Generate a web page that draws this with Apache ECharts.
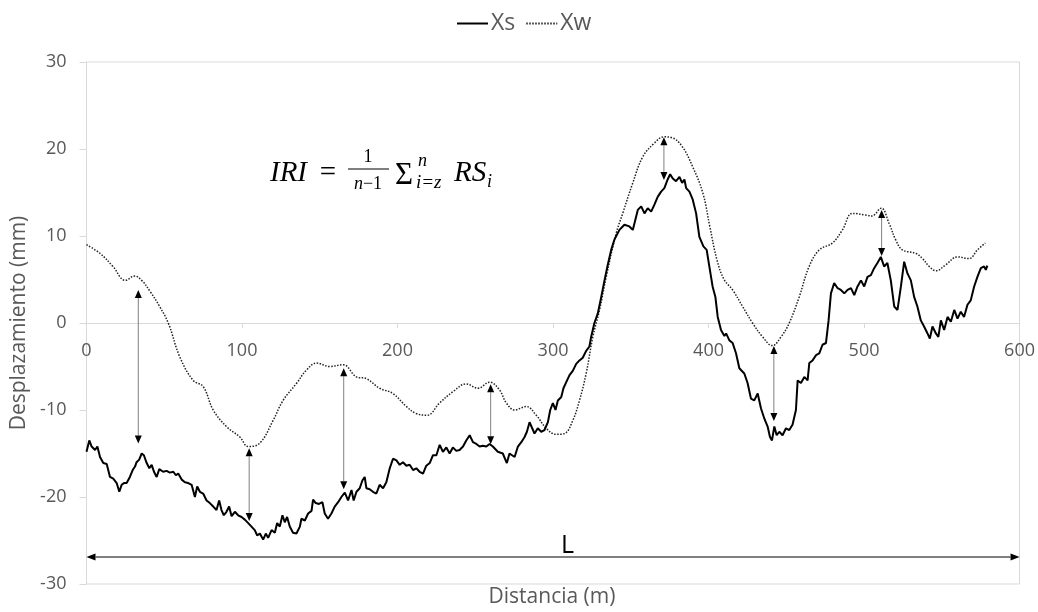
<!DOCTYPE html>
<html>
<head>
<meta charset="utf-8">
<script src="https://cdn.jsdelivr.net/npm/echarts@6/dist/echarts.min.js"></script>
<style>
html,body{margin:0;padding:0;background:#fff;}
#chart{width:1038px;height:612px;}
</style>
</head>
<body>
<div id="chart"></div>
<script>
// ---- data ----
const xTicks = [0, 100, 200, 300, 400, 500, 600];
const yTicks = [-30, -20, -10, 0, 10, 20, 30];

const xsDist = [0,1.8,3.3,5.5,7,8.7,10.8,13,15.1,17.2,19.4,21.1,22.6,24.1,25.8,27.9,29.7,31.2,32.2,33.9,35.5,36.9,38.7,40.4,41.9,43.4,45.1,46.8,49.3,51.5,53.6,55.8,57.5,59,61.2,63.3,65.4,67.6,69.7,71.2,72.9,75,77.2,79.3,81.5,83.6,85.3,86.8,88.3,90,91.7,93.3,95.4,97.5,99.7,101.8,104,106.1,108.2,109.7,111.5,113.6,115.3,116.8,119,121.1,122.6,124.3,126,127.5,129,130.7,132.8,135,137.2,138.2,140.4,142.5,144.7,145.7,147.4,149.5,151.7,153.2,155.3,157.5,159.6,161.8,163.9,166.1,168.2,170.4,171.8,173.6,175.7,177.4,178.9,180,182.1,184.2,186.4,188.5,190.7,192.8,195,197.1,199.3,201.4,203.5,205.7,207.8,210,212.1,214.2,216.4,218.5,220.7,222.8,225,227.1,229.2,231.4,233.5,235.6,237.8,239.9,242.1,244.2,246.4,248.5,250.7,252.8,254.9,257.1,259.2,261.3,264.5,267.7,270.3,272,275.3,277.4,279.6,281.7,283.2,284.9,286.6,288.1,290.2,292.4,294.5,296.7,298.2,299.9,301.6,303.1,305.3,306.7,308.5,310.6,312.7,314.9,317,319.1,321.3,323.4,324.5,326.6,328.8,331,333.1,335.2,337.4,339.5,342.7,345.9,349.1,351.3,354.5,356.7,358.8,360.9,363.1,365.2,367.3,369.5,371.6,373.7,375.3,377,379.1,381.3,383,384.5,385.6,387.7,389.8,392,394.1,396.7,398.8,400.5,402.6,404.4,405.9,408,410.2,411.3,413.4,415.5,417.7,419.8,423,425.1,427.3,429.4,431.6,433.7,435.9,438,439.5,440.8,442.3,443.8,445.5,447.6,449.8,451.9,454,456.2,457.3,459.4,461.6,463.7,464.8,466.9,469.1,471.2,473.3,475.5,477.2,478.7,480.8,483,485.1,487.3,489.4,491.6,493.7,495.8,498,500.1,502.2,504.4,506.5,508.6,510.8,512.9,515,517.2,519.4,521.5,523.7,525.8,527.9,530.1,532.2,534.3,536.5,538.6,540.8,542.3,544,546.2,547.8,549.4,551.5,553.7,555.8,558,560.1,562.2,564.3,566.5,568.6,570.8,572.9,575.1,577.2,578.3,579.3];
const xsDisp = [-14.8,-13.5,-14.2,-14.6,-14.2,-15.4,-16.1,-16.2,-17.7,-17.9,-18.4,-19.4,-18.6,-18.4,-18.4,-17.7,-16.9,-16.5,-16.0,-15.7,-15.0,-15.2,-16.1,-16.7,-16.3,-17.1,-17.7,-16.8,-17.1,-17.0,-17.2,-17.1,-17.5,-17.3,-18.0,-18.3,-18.4,-18.6,-20.0,-18.8,-19.4,-19.6,-20.4,-20.7,-21.1,-21.5,-20.4,-21.5,-22.1,-21.7,-21.1,-22.2,-21.7,-22.1,-22.3,-22.6,-23.0,-23.4,-23.8,-24.4,-24.2,-24.9,-24.2,-24.7,-23.8,-24.1,-23.0,-23.4,-22.1,-22.9,-22.3,-23.4,-24.1,-24.2,-23.4,-22.5,-22.7,-21.9,-21.6,-20.3,-20.7,-20.8,-20.6,-21.9,-22.5,-21.9,-21.1,-20.6,-20.0,-19.5,-20.4,-19.2,-20.4,-19.4,-19.0,-18.1,-17.7,-19.0,-19.1,-19.4,-19.6,-18.6,-19.0,-18.3,-16.7,-15.6,-15.8,-16.3,-16.0,-16.4,-16.3,-16.9,-16.7,-17.1,-17.3,-16.4,-16.1,-15.2,-15.2,-14.0,-14.8,-14.3,-15.0,-14.3,-14.7,-14.6,-14.2,-13.5,-12.9,-13.7,-13.9,-14.2,-14.1,-14.2,-13.9,-14.2,-14.8,-15.0,-16.1,-15.0,-15.4,-14.2,-13.7,-13.1,-12.5,-11.4,-12.1,-12.7,-12.1,-12.5,-12.3,-11.4,-10.0,-9.2,-10.0,-8.9,-8.5,-7.5,-6.8,-6.0,-5.5,-4.7,-4.3,-4.0,-3.2,-2.7,-1.6,0,1.1,3.0,4.9,6.7,8.4,9.6,10.7,11.3,11.1,10.7,13.0,13.4,12.6,13.2,12.8,13.6,14.5,15.1,15.5,16.5,17.1,16.6,16.3,16.8,16.1,16.5,15.5,15.1,14.2,12.6,9.9,8.8,8.4,6.5,4.2,3.0,0.7,-0.8,-1.5,-1.2,-2.0,-2.3,-3.5,-5.2,-5.8,-6.9,-8.7,-8.9,-8.1,-9.8,-11.0,-11.9,-13.1,-13.5,-11.9,-12.9,-12.5,-12.9,-12.1,-12.3,-11.7,-10.0,-6.6,-6.9,-6.2,-6.6,-4.6,-4.3,-3.7,-3.5,-2.5,-2.3,0.3,3.4,4.6,4.0,3.8,3.4,3.8,4.0,3.2,4.2,4.9,4.2,5.3,5.5,6.3,6.9,7.6,6.5,6.9,4.9,1.9,1.5,4.2,7.05,5.7,4.9,3.0,1.9,0.3,-0.4,-1.2,-1.8,-0.4,-1.2,-1.6,0.3,-0.8,0.7,0.15,1.5,0.5,1.3,0.7,2.1,2.6,4.2,5.3,6.3,6.5,6.1,6.6];

const xwDist = [0,8.7,17,25,31,35.5,41,47,52.6,60,68.6,75,81.5,90,98.6,104,111.5,120,126.4,135,141.5,147.9,156.4,165,173.6,180,188.5,197,205.7,212,219,227,235.6,244.2,251.7,259.2,265.6,270,275.3,282.8,289.2,295.6,302,307.4,312.7,317,321.3,325.6,329.9,334.2,340.6,344.8,351.3,357.7,365.3,371.3,376.4,383,389.7,396.4,400.8,405.5,410,415.5,421.9,428.3,434.8,441,446.6,451.9,458.3,464.7,471.2,479.7,486.1,492.6,501.2,505,511,516.2,520.5,524.7,533.3,537.6,541.9,546.2,552.6,560,567.5,572.9,578];
const xwDisp = [9.0,8.0,6.5,4.9,5.4,4.9,3.6,1.9,0,-3.9,-6.6,-7.3,-10,-11.9,-13.1,-14.2,-13.8,-11.2,-8.9,-6.95,-5.4,-4.6,-5.0,-4.8,-6.2,-6.4,-7.5,-8.1,-9.6,-10.4,-10.6,-9.2,-7.9,-7.0,-7.5,-6.8,-7.7,-9.2,-10.0,-9.6,-10.6,-12.1,-12.8,-12.7,-11.2,-8.9,-5.8,-1.6,1.5,5.3,10.3,12.6,16.1,19.1,20.7,21.4,21.3,20.3,18.0,14.9,11.1,7.2,5.0,3.8,1.9,0,-1.6,-2.6,-1.6,0,3.0,6.5,8.4,9.2,10.7,12.6,12.4,12.3,13.2,11.4,9.5,8.4,8.0,7.4,6.5,6.0,6.7,7.6,7.4,8.4,9.2];

// double-headed vertical arrows: distance, upper value, lower value
const arrowDist  = [33.3, 104.6, 165.4, 259.9, 371.3, 442, 511.3];
const arrowUpper = [3.8, -14.4, -5.2, -7.05, 21.35, -2.65, 13.0];
const arrowLower = [-13.85, -22.75, -19.1, -13.95, 16.45, -11.25, 7.7];

// span arrow "L"
const spanFrom = [0];
const spanTo = [600];
const spanLevel = [-26.9];
const spanLabel = ['L'];
const spanLabelPos = [309.3, -25.6];

const TXT = '#595959';
const FONT = 'Open Sans';

const chart = echarts.init(document.getElementById('chart'), null, {renderer: 'canvas'});

const xsData = xsDist.map((d, i) => [d, xsDisp[i]]);
const xwData = xwDist.map((d, i) => [d, xwDisp[i]]);
const arrowData = arrowDist.map((d, i) => [d, arrowUpper[i], arrowLower[i]]);
const spanData = spanFrom.map((d, i) => [d, spanTo[i], spanLevel[i]]);

function renderVArrow(params, api) {
  const x = api.value(0);
  const p1 = api.coord([x, api.value(1)]);
  const p2 = api.coord([x, api.value(2)]);
  const h = 8, w = 3.5;
  return {
    type: 'group',
    children: [
      {type: 'line', shape: {x1: p1[0], y1: p1[1] + h, x2: p2[0], y2: p2[1] - h}, style: {stroke: '#808080', lineWidth: 1}},
      {type: 'polygon', shape: {points: [[p1[0], p1[1]], [p1[0] - w, p1[1] + h], [p1[0] + w, p1[1] + h]]}, style: {fill: '#000'}},
      {type: 'polygon', shape: {points: [[p2[0], p2[1]], [p2[0] - w, p2[1] - h], [p2[0] + w, p2[1] - h]]}, style: {fill: '#000'}}
    ]
  };
}

function renderSpan(params, api) {
  const a = api.coord([api.value(0), api.value(2)]);
  const b = api.coord([api.value(1), api.value(2)]);
  const lp = api.coord(spanLabelPos);
  const h = 9, w = 3.5;
  return {
    type: 'group',
    children: [
      {type: 'line', shape: {x1: a[0] + h, y1: a[1], x2: b[0] - h, y2: b[1]}, style: {stroke: '#000', lineWidth: 1}},
      {type: 'polygon', shape: {points: [[a[0], a[1]], [a[0] + h, a[1] - w], [a[0] + h, a[1] + w]]}, style: {fill: '#000'}},
      {type: 'polygon', shape: {points: [[b[0], b[1]], [b[0] - h, b[1] - w], [b[0] - h, b[1] + w]]}, style: {fill: '#000'}},
      {type: 'text', x: lp[0], y: lp[1], style: {text: spanLabel[params.dataIndex], fill: '#000', font: '25px "Open Sans"', align: 'center', verticalAlign: 'middle'}}
    ]
  };
}

const serif = '"Liberation Serif"';
const GRID_TOP = 62, GRID_BOTTOM = 28, H = 612;
const zeroOffset = -((H - GRID_BOTTOM) - (GRID_TOP + (H - GRID_BOTTOM - GRID_TOP) * (yTicks[yTicks.length - 1] / (yTicks[yTicks.length - 1] - yTicks[0]))));

const option = {
  backgroundColor: '#fff',
  animation: false,
  textStyle: {fontFamily: FONT},
  legend: {
    data: ['Xs', 'Xw'],
    left: 451,
    top: 7,
    itemWidth: 31,
    itemHeight: 4,
    itemGap: 10,
    itemStyle: {opacity: 0},
    textStyle: {color: TXT, fontSize: 23, fontFamily: FONT, padding: [0, 0, 0, -2]}
  },
  grid: {left: 86.5, right: 17.5, top: GRID_TOP, bottom: GRID_BOTTOM, show: true, borderColor: '#d9d9d9', borderWidth: 1},
  xAxis: {
    type: 'value', min: xTicks[0], max: xTicks[xTicks.length - 1], interval: 100,
    position: 'bottom', offset: zeroOffset,
    axisLine: {onZero: false, lineStyle: {color: '#d9d9d9', width: 1}},
    axisTick: {show: true, length: 5, lineStyle: {color: '#d9d9d9'}},
    axisLabel: {color: TXT, fontSize: 18, margin: 19, fontFamily: FONT},
    splitLine: {show: false}
  },
  yAxis: {
    type: 'value', min: yTicks[0], max: yTicks[yTicks.length - 1], interval: 10,
    name: 'Desplazamiento (mm)', nameLocation: 'middle', nameGap: 55,
    nameTextStyle: {color: TXT, fontSize: 21, fontFamily: FONT},
    axisLine: {show: true, onZero: false, lineStyle: {color: '#d9d9d9', width: 1}},
    axisTick: {show: true, length: 7, lineStyle: {color: '#d9d9d9'}},
    axisLabel: {color: TXT, fontSize: 18, margin: 20, fontFamily: FONT},
    splitLine: {show: false}
  },
  series: [
    {
      name: 'Xs', type: 'line', data: xsData, showSymbol: false, symbol: 'none',
      lineStyle: {color: '#000', width: 2}, itemStyle: {color: '#000'}, z: 3
    },
    {
      name: 'Xw', type: 'line', data: xwData, showSymbol: false, symbol: 'none', smooth: 0.4,
      lineStyle: {color: '#222', width: 1.5, type: [1.5, 1.5]}, itemStyle: {color: '#222'}, z: 2
    },
    {
      name: 'arrows', type: 'custom', data: arrowData, renderItem: renderVArrow,
      encode: {x: 0, y: [1, 2]}, silent: true, z: 4
    },
    {
      name: 'span', type: 'custom', data: spanData, renderItem: renderSpan,
      encode: {x: [0, 1], y: 2}, silent: true, z: 4
    }
  ],
  graphic: [
    {type: 'text', x: 552, y: 597, style: {text: 'Distancia (m)', fill: TXT, font: '21px "Open Sans"', align: 'center', verticalAlign: 'middle'}},
    {type: 'text', x: 270, y: 173, style: {text: 'IRI', fill: '#000', font: 'italic 29px ' + serif, verticalAlign: 'middle'}},
    {type: 'text', x: 328, y: 173, style: {text: '=', fill: '#000', font: '29px ' + serif, align: 'center', verticalAlign: 'middle'}},
    {type: 'text', x: 368, y: 157, style: {text: '1', fill: '#000', font: '18px ' + serif, align: 'center', verticalAlign: 'middle'}},
    {type: 'line', shape: {x1: 348, y1: 169, x2: 389, y2: 169}, style: {stroke: '#000', lineWidth: 1.2}},
    {type: 'text', x: 368, y: 184, style: {text: '{i|n}−1', fill: '#000', font: '18px ' + serif, align: 'center', verticalAlign: 'middle', rich: {i: {font: 'italic 18px ' + serif, fill: '#000'}}}},
    {type: 'text', x: 404, y: 176, style: {text: 'Σ', fill: '#000', font: '31px ' + serif, align: 'center', verticalAlign: 'middle'}},
    {type: 'text', x: 418, y: 161, style: {text: 'n', fill: '#000', font: 'italic 18px ' + serif, verticalAlign: 'middle'}},
    {type: 'text', x: 416, y: 183, style: {text: 'i=z', fill: '#000', font: 'italic 19px ' + serif, verticalAlign: 'middle'}},
    {type: 'text', x: 454, y: 173, style: {text: 'RS', fill: '#000', font: 'italic 29px ' + serif, verticalAlign: 'middle'}},
    {type: 'text', x: 487, y: 182, style: {text: 'i', fill: '#000', font: 'italic 18px ' + serif, verticalAlign: 'middle'}}
  ]
};
chart.setOption(option);
</script>
</body>
</html>
